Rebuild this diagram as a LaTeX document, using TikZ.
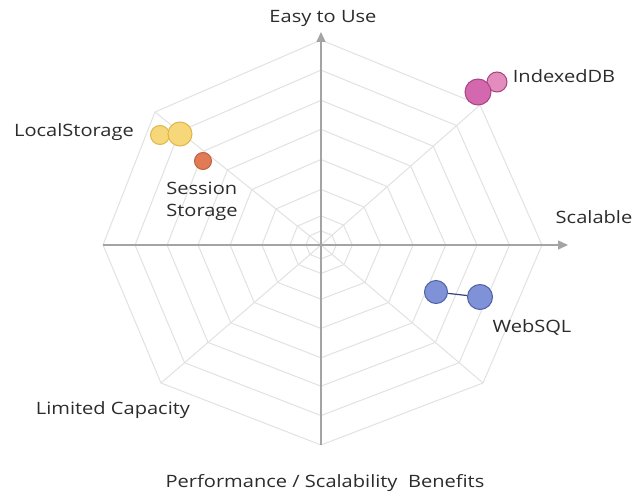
\documentclass[tikz,border=0pt]{standalone}
\usepackage{fontspec}
\setmainfont[FakeStretch=1.18]{Open Sans}
\usetikzlibrary{calc,arrows.meta}
\definecolor{gridc}{HTML}{E2E2E2}
\definecolor{axisc}{HTML}{A4A4A4}
\definecolor{txt}{HTML}{2C2C2C}
\definecolor{yelf}{HTML}{F6D77A}
\definecolor{yeld}{HTML}{E0B64A}
\definecolor{oraf}{HTML}{E07B55}
\definecolor{orad}{HTML}{C2603F}
\definecolor{pinkf}{HTML}{D468AE}
\definecolor{pinkd}{HTML}{A8457F}
\definecolor{pinkl}{HTML}{E38DBE}
\definecolor{bluef}{HTML}{7F92D8}
\definecolor{blued}{HTML}{4F5FA8}
\tikzset{
  gridline/.style={draw=gridc, line width=1pt, line join=round},
  axisline/.style={draw=axisc, line width=1.3pt, -{Triangle[length=10pt,width=9pt]}},
  lbl/.style={text=txt, font=\fontsize{17}{21}\selectfont, inner sep=0pt, align=center},
  bubble/.style={circle, inner sep=0pt, line width=1pt},
}
\begin{document}
\begin{tikzpicture}[x=1pt,y=-1pt]
\useasboundingbox[fill=white] (0,0) rectangle (632,497);
\coordinate (c) at (321,245);
\coordinate (v0) at (542,245);
\coordinate (v1) at (480,105);
\coordinate (v2) at (321,40);
\coordinate (v3) at (155,112);
\coordinate (v4) at (103,245);
\coordinate (v5) at (161,383);
\coordinate (v6) at (321,445);
\coordinate (v7) at (483,383);
\coordinate (topTip) at (321,32);
\coordinate (rightTip) at (568,245);
% rings
\foreach \f in {1,0.853,0.706,0.564,0.417,0.271,0.142,0.069}{
  \draw[gridline] ($(c)!\f!(v0)$) -- ($(c)!\f!(v1)$) -- ($(c)!\f!(v2)$) -- ($(c)!\f!(v3)$)
    -- ($(c)!\f!(v4)$) -- ($(c)!\f!(v5)$) -- ($(c)!\f!(v6)$) -- ($(c)!\f!(v7)$) -- cycle;
}
% diagonal spokes
\foreach \v in {v1,v3,v5,v7}{
  \draw[gridline] (c) -- (\v);
}
% axes
\draw[axisline] (v4) -- (rightTip);
\draw[axisline] (v6) -- (topTip);
% labels
\node[lbl] (easy) at (323,18) {Easy to Use};
\node[lbl] (scal) at (594,217) {Scalable};
\node[lbl] (idb) at (564,76) {IndexedDB};
\node[lbl] (ls) at (74,132) {LocalStorage};
\node[lbl, align=left] (ss) at (202,201) {Session\\[1pt]Storage};
\node[lbl] (wsql) at (532,327) {WebSQL};
\node[lbl] (lim) at (113,410) {Limited Capacity};
\node[lbl] (perf) at (325,483) {Performance / Scalability\ \ Benefits};
% bubbles
\node[bubble, fill=yelf, draw=yeld, minimum size=19pt] (ls1) at (160,135) {};
\node[bubble, fill=yelf, draw=yeld, minimum size=24pt] (ls2) at (180,134) {};
\node[bubble, fill=oraf, draw=orad, minimum size=17pt] (sess) at (203,161) {};
\node[bubble, fill=pinkl, draw=pinkd, minimum size=20pt] (idb2) at (497,82) {};
\node[bubble, fill=pinkf, draw=pinkd, minimum size=26pt] (idb1) at (478,92) {};
\node[bubble, fill=bluef, draw=blued, minimum size=23pt] (ws1) at (436,292) {};
\node[bubble, fill=bluef, draw=blued, minimum size=25pt] (ws2) at (480,297) {};
\draw[draw=blued!70!black, line width=1.2pt] (ws1) -- (ws2);
\end{tikzpicture}
\end{document}
